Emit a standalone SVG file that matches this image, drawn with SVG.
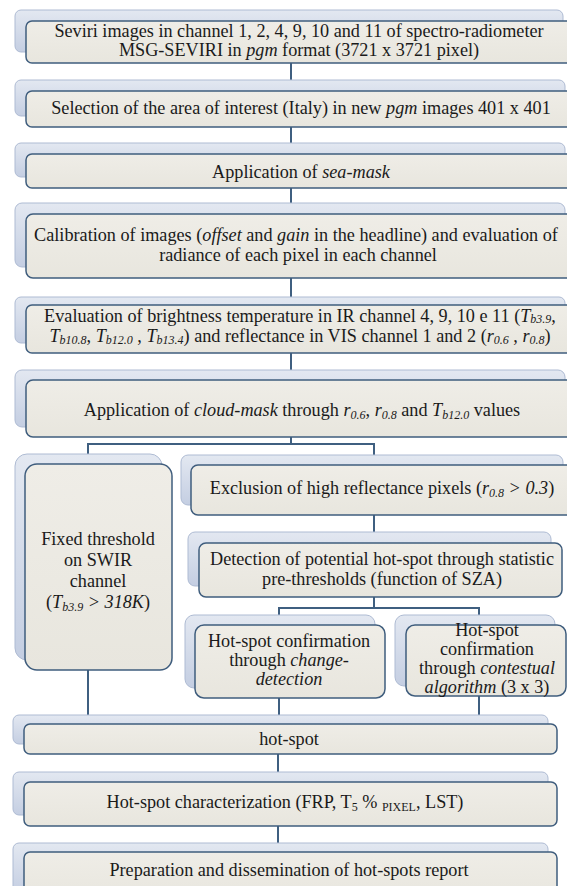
<svg xmlns="http://www.w3.org/2000/svg" width="567" height="886" viewBox="0 0 567 886">
<defs>
<linearGradient id="bg" x1="0" y1="0" x2="0" y2="1">
<stop offset="0" stop-color="#e3e8f1"/>
<stop offset="1" stop-color="#c4cee2"/>
</linearGradient>
<linearGradient id="fg" x1="0" y1="0" x2="0" y2="1">
<stop offset="0" stop-color="#efede7"/>
<stop offset="1" stop-color="#e8e6de"/>
</linearGradient>
</defs>
<style>
.back{fill:url(#bg);stroke:#aebbd3;stroke-width:1}
.front{fill:url(#fg);stroke:#3f5d7d;stroke-width:1.5}
.t{font-family:"Liberation Serif","Times New Roman",serif;font-size:18.2px;fill:#1a1a1a;text-anchor:middle}
.i{font-style:italic}
.s{font-size:12px;font-style:italic}
.n{font-size:12px}
#connectors line{stroke:#3f5f80;stroke-width:2}
</style>
<rect width="567" height="886" fill="#ffffff"/>
<g id="connectors">
<line x1="291" y1="63" x2="291" y2="80"/>
<line x1="291" y1="127" x2="291" y2="143"/>
<line x1="291" y1="188" x2="291" y2="203"/>
<line x1="291" y1="278" x2="291" y2="297"/>
<line x1="291" y1="353" x2="291" y2="370"/>
<line x1="291" y1="437" x2="291" y2="444"/>
<line x1="87" y1="444" x2="375" y2="444"/>
<line x1="88" y1="444" x2="88" y2="454"/>
<line x1="374" y1="444" x2="374" y2="455"/>
<line x1="374" y1="515" x2="374" y2="532"/>
<line x1="374" y1="597" x2="374" y2="608"/>
<line x1="278" y1="608" x2="480" y2="608"/>
<line x1="279" y1="608" x2="279" y2="615"/>
<line x1="479" y1="608" x2="479" y2="615"/>
<line x1="88" y1="670" x2="88" y2="715"/>
<line x1="279" y1="698" x2="279" y2="715"/>
<line x1="479" y1="696" x2="479" y2="715"/>
<line x1="278" y1="754" x2="278" y2="772"/>
<line x1="278" y1="826" x2="278" y2="843"/>
</g>
<g id="n1">
<rect class="back" x="15" y="10" width="548" height="42" rx="6"/>
<rect class="front" x="26" y="21" width="560" height="42" rx="6"/>
<text class="t" x="299" y="37">Seviri images in channel 1, 2, 4, 9, 10 and 11 of spectro-radiometer</text>
<text class="t" x="299" y="56">MSG-SEVIRI in <tspan class="i">pgm</tspan> format (3721 x 3721 pixel)</text>
</g>
<g id="n2">
<rect class="back" x="15" y="80" width="550" height="36" rx="6"/>
<rect class="front" x="26" y="91" width="560" height="36" rx="6"/>
<text class="t" x="301" y="114">Selection of the area of interest (Italy) in new <tspan class="i">pgm</tspan> images 401 x 401</text>
</g>
<g id="n3">
<rect class="back" x="15" y="143" width="550" height="34" rx="6"/>
<rect class="front" x="26" y="154" width="560" height="34" rx="6"/>
<text class="t" x="301" y="178">Application of <tspan class="i">sea-mask</tspan></text>
</g>
<g id="n4">
<rect class="back" x="15" y="203" width="550" height="64" rx="7"/>
<rect class="front" x="26" y="214" width="560" height="64" rx="7"/>
<text class="t" x="296" y="241">Calibration of images (<tspan class="i">offset</tspan> and <tspan class="i">gain</tspan> in the headline) and evaluation of</text>
<text class="t" x="298" y="261">radiance of each pixel in each channel</text>
</g>
<g id="n5">
<rect class="back" x="15" y="297" width="550" height="46" rx="6"/>
<rect class="front" x="26" y="305" width="560" height="48" rx="6"/>
<text class="t" x="300" y="322">Evaluation of brightness temperature in IR channel 4, 9, 10 e 11 (<tspan class="i">T</tspan><tspan class="s" dy="1">b3.9</tspan><tspan dy="-1">,</tspan></text>
<text class="t" x="300" y="342"><tspan class="i">T</tspan><tspan class="s" dy="2">b10.8</tspan><tspan dy="-2">, </tspan><tspan class="i">T</tspan><tspan class="s" dy="2">b12.0</tspan><tspan dy="-2"> , </tspan><tspan class="i">T</tspan><tspan class="s" dy="2">b13.4</tspan><tspan dy="-2">) and reflectance in VIS channel 1 and 2 (</tspan><tspan class="i">r</tspan><tspan class="s" dy="2">0.6</tspan><tspan dy="-2"> , </tspan><tspan class="i">r</tspan><tspan class="s" dy="2">0.8</tspan><tspan dy="-2">)</tspan></text>
</g>
<g id="n6">
<rect class="back" x="15" y="370" width="550" height="57" rx="7"/>
<rect class="front" x="26" y="380" width="560" height="57" rx="7"/>
<text class="t" x="302" y="416">Application of <tspan class="i">cloud-mask</tspan> through <tspan class="i">r</tspan><tspan class="s" dy="3">0.6</tspan><tspan dy="-3">, </tspan><tspan class="i">r</tspan><tspan class="s" dy="3">0.8</tspan><tspan dy="-3"> and </tspan><tspan class="i">T</tspan><tspan class="s" dy="3">b12.0</tspan><tspan dy="-3"> values</tspan></text>
</g>
<g id="fixed">
<rect class="back" x="15" y="454" width="147" height="206" rx="12"/>
<rect class="front" x="25" y="464" width="147" height="206" rx="12"/>
<text class="t" x="98" y="545">Fixed threshold</text>
<text class="t" x="98" y="566">on SWIR</text>
<text class="t" x="98" y="587">channel</text>
<text class="t" x="98" y="608">(<tspan class="i">T</tspan><tspan class="s" dy="3">b3.9</tspan><tspan class="i" dy="-3"> &gt; 318K</tspan>)</text>
</g>
<g id="exclusion">
<rect class="back" x="181" y="455" width="382" height="50" rx="7"/>
<rect class="front" x="191" y="465" width="390" height="50" rx="7"/>
<text class="t" x="382" y="494">Exclusion of high reflectance pixels (<tspan class="i">r</tspan><tspan class="s" dy="3">0.8</tspan><tspan class="i" dy="-3"> &gt; 0.3</tspan>)</text>
</g>
<g id="detection">
<rect class="back" x="188" y="532" width="363" height="54" rx="7"/>
<rect class="front" x="199" y="543" width="363" height="54" rx="7"/>
<text class="t" x="382" y="565">Detection of potential hot-spot through statistic</text>
<text class="t" x="382" y="585">pre-thresholds (function of SZA)</text>
</g>
<g id="change">
<rect class="back" x="185" y="615" width="190" height="73" rx="9"/>
<rect class="front" x="195" y="625" width="190" height="73" rx="9"/>
<text class="t" x="289" y="647">Hot-spot confirmation</text>
<text class="t" x="289" y="666">through <tspan class="i">change-</tspan></text>
<text class="t" x="289" y="685"><tspan class="i">detection</tspan></text>
</g>
<g id="contestual">
<rect class="back" x="395" y="615" width="160" height="71" rx="9"/>
<rect class="front" x="406" y="625" width="160" height="71" rx="9"/>
<text class="t" x="487" y="636">Hot-spot</text>
<text class="t" x="487" y="655">confirmation</text>
<text class="t" x="487" y="674">through <tspan class="i">contestual</tspan></text>
<text class="t" x="487" y="693"><tspan class="i">algorithm</tspan> (3 x 3)</text>
</g>
<g id="hotspot">
<rect class="back" x="13" y="715" width="535" height="29" rx="6"/>
<rect class="front" x="24" y="724" width="533" height="30" rx="6"/>
<text class="t" x="289" y="745">hot-spot</text>
</g>
<g id="characterization">
<rect class="back" x="13" y="772" width="535" height="43" rx="6"/>
<rect class="front" x="24" y="782" width="533" height="44" rx="6"/>
<text class="t" x="285" y="808">Hot-spot characterization (FRP, T<tspan class="n" dy="3">5</tspan><tspan dy="-3"> % </tspan><tspan class="n" dy="3">PIXEL</tspan><tspan dy="-3">, LST)</tspan></text>
</g>
<g id="preparation">
<rect class="back" x="13" y="843" width="535" height="50" rx="6"/>
<rect class="front" x="24" y="852" width="533" height="50" rx="6"/>
<text class="t" x="289" y="876">Preparation and dissemination of hot-spots report</text>
</g>
</svg>
